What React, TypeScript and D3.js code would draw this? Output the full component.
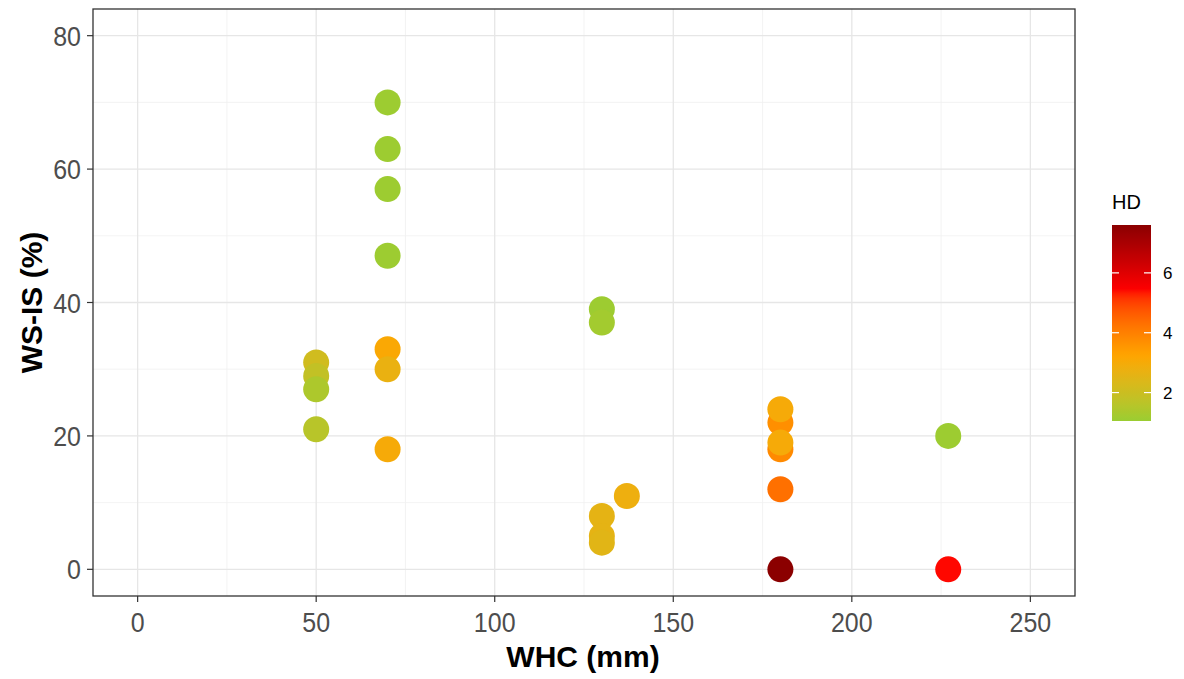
import React from "react";
import * as d3 from "d3";

const whc: number[] = [50, 50, 50, 50, 70, 70, 70, 70, 70, 70, 70, 130, 130, 130, 130, 130, 137, 180, 180, 180, 180, 180, 180, 227, 227];
const wsis: number[] = [31, 29, 27, 21, 70, 63, 57, 47, 33, 30, 18, 39, 37, 8, 5, 4, 11, 22, 18, 24, 19, 12, 0, 20, 0];
const hd: number[] = [2.1, 1.8, 1.4, 1.6, 1.1, 1.1, 1.1, 1.1, 3.1, 2.7, 3.0, 1.1, 1.2, 2.6, 2.6, 2.5, 2.8, 3.7, 3.8, 3.0, 3.0, 4.3, 7.6, 1.1, 5.4];

const xTicks = [0, 50, 100, 150, 200, 250];
const yTicks = [0, 20, 40, 60, 80];
const legendTicks = [2, 4, 6];
const hdMin = 1.05;
const hdMax = 7.6;
const gradColors = ["#9ACD32", "#FFA500", "#FF0000", "#8B0000"];

const W = 1184;
const H = 679;
const panel = { left: 93, right: 1075, top: 9, bottom: 596 };

export default function App() {
  const x = d3.scaleLinear().domain([-12.5, 262.5]).range([panel.left, panel.right]);
  const y = d3.scaleLinear().domain([-4, 84]).range([panel.bottom, panel.top]);
  const stops = d3.range(gradColors.length).map((i) => hdMin + (i * (hdMax - hdMin)) / (gradColors.length - 1));
  const color = d3.scaleLinear<string>().domain(stops).range(gradColors).interpolate(d3.interpolateLab);

  const xMinor = [25, 75, 125, 175, 225];
  const yMinor = [10, 30, 50, 70];

  const lg = { x: 1112, w: 39, top: 225, bottom: 421 };
  const ly = d3.scaleLinear().domain([hdMin, hdMax]).range([lg.bottom, lg.top]);
  const gradStops = d3.range(0, 41).map((i) => {
    const t = i / 40;
    return { off: t, c: color(hdMax - t * (hdMax - hdMin)) };
  });

  const font = "Liberation Sans, Arial, sans-serif";
  const points = whc.map((w, i) => ({ w, s: wsis[i], h: hd[i] }));

  return (
    <div style={{ position: "absolute", left: 0, top: 0 }}>
      <svg width={W} height={H} style={{ display: "block", background: "#fff" }} fontFamily={font}>
        <defs>
          <linearGradient id="hdgrad" x1="0" y1="0" x2="0" y2="1">
            {gradStops.map((g, i) => (
              <stop key={i} offset={g.off} stopColor={g.c} />
            ))}
          </linearGradient>
        </defs>
        <rect x={panel.left} y={panel.top} width={panel.right - panel.left} height={panel.bottom - panel.top} fill="#fff" />
        {xMinor.map((v) => (
          <line key={"xm" + v} x1={x(v)} x2={x(v)} y1={panel.top} y2={panel.bottom} stroke="#F0F0F0" strokeWidth={0.8} />
        ))}
        {yMinor.map((v) => (
          <line key={"ym" + v} y1={y(v)} y2={y(v)} x1={panel.left} x2={panel.right} stroke="#F0F0F0" strokeWidth={0.8} />
        ))}
        {xTicks.map((v) => (
          <line key={"xg" + v} x1={x(v)} x2={x(v)} y1={panel.top} y2={panel.bottom} stroke="#E6E6E6" strokeWidth={1.3} />
        ))}
        {yTicks.map((v) => (
          <line key={"yg" + v} y1={y(v)} y2={y(v)} x1={panel.left} x2={panel.right} stroke="#E6E6E6" strokeWidth={1.3} />
        ))}
        {points.map((p, i) => (
          <circle key={i} cx={x(p.w)} cy={y(p.s)} r={13} fill={color(p.h)} />
        ))}
        <rect x={panel.left} y={panel.top} width={panel.right - panel.left} height={panel.bottom - panel.top} fill="none" stroke="#333" strokeWidth={1.3} />
        {xTicks.map((v) => (
          <g key={"xt" + v}>
            <line x1={x(v)} x2={x(v)} y1={panel.bottom} y2={panel.bottom + 6} stroke="#333" strokeWidth={1.2} />
            <text transform={`translate(${x(v)},632) scale(1,1.12)`} textAnchor="middle" fontSize={25} fill="#4D4D4D">{v}</text>
          </g>
        ))}
        {yTicks.map((v) => (
          <g key={"yt" + v}>
            <line x1={panel.left - 6} x2={panel.left} y1={y(v)} y2={y(v)} stroke="#333" strokeWidth={1.2} />
            <text transform={`translate(${panel.left - 12},${y(v) + 10}) scale(1,1.12)`} textAnchor="end" fontSize={25} fill="#4D4D4D">{v}</text>
          </g>
        ))}
        <text x={583} y={667} textAnchor="middle" fontSize={30} fontWeight="bold" fill="#000">WHC (mm)</text>
        <text transform={`translate(42,${(panel.top + panel.bottom) / 2}) rotate(-90)`} textAnchor="middle" fontSize={30} fontWeight="bold" fill="#000">WS-IS (%)</text>
        <text x={lg.x} y={209} fontSize={20} fill="#000">HD</text>
        <rect x={lg.x} y={lg.top} width={lg.w} height={lg.bottom - lg.top} fill="url(#hdgrad)" />
        {legendTicks.map((v) => (
          <g key={"lt" + v}>
            <line x1={lg.x} x2={lg.x + 7} y1={ly(v)} y2={ly(v)} stroke="#fff" strokeWidth={1.2} />
            <line x1={lg.x + lg.w - 7} x2={lg.x + lg.w} y1={ly(v)} y2={ly(v)} stroke="#fff" strokeWidth={1.2} />
            <text x={lg.x + lg.w + 12} y={ly(v) + 6} fontSize={17} fill="#000">{v}</text>
          </g>
        ))}
      </svg>
    </div>
  );
}
